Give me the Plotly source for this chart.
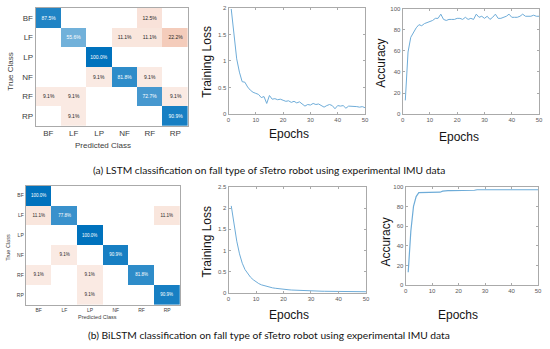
import plotly.graph_objects as go

W, H = 550, 349

classes = ["BF", "LF", "LP", "NF", "RF", "RP"]

cm_lstm = [
    [87.5, 0, 0, 0, 12.5, 0],
    [0, 55.6, 0, 11.1, 11.1, 22.2],
    [0, 0, 100.0, 0, 0, 0],
    [0, 0, 9.1, 81.8, 9.1, 0],
    [9.1, 9.1, 0, 0, 72.7, 9.1],
    [0, 9.1, 0, 0, 0, 90.9],
]
cm_bilstm = [
    [100.0, 0, 0, 0, 0, 0],
    [11.1, 77.8, 0, 0, 0, 11.1],
    [0, 0, 100.0, 0, 0, 0],
    [0, 9.1, 0, 90.9, 0, 0],
    [9.1, 0, 9.1, 0, 81.8, 0],
    [0, 0, 9.1, 0, 0, 90.9],
]

epochs = list(range(1, 51))
loss_lstm = [1.98, 1.47, 1.04, 0.79, 0.61, 0.60, 0.51, 0.45, 0.41, 0.39,
             0.37, 0.31, 0.33, 0.20, 0.35, 0.28, 0.29, 0.27, 0.28, 0.26,
             0.24, 0.25, 0.22, 0.24, 0.21, 0.23, 0.19, 0.15, 0.18, 0.17,
             0.20, 0.18, 0.19, 0.16, 0.13, 0.16, 0.18, 0.16, 0.10, 0.16,
             0.15, 0.16, 0.11, 0.15, 0.15, 0.14, 0.14, 0.13, 0.14, 0.12]
acc_lstm = [13, 59, 73, 78, 82, 85, 84, 86, 87, 88,
            89, 91, 91, 95, 90, 89, 90, 90, 90, 91,
            91, 90, 92, 90, 91, 90, 95, 92, 93, 91,
            93, 90, 92, 95, 91, 91, 92, 93, 95, 92,
            92, 92, 93, 95, 93, 93, 93, 94, 93, 93]
loss_bilstm = [2.05, 1.62, 1.22, 0.92, 0.70, 0.55, 0.45, 0.37, 0.31, 0.26,
               0.22, 0.19, 0.17, 0.15, 0.135, 0.12, 0.11, 0.10, 0.092, 0.085,
               0.079, 0.073, 0.068, 0.064, 0.060, 0.057, 0.054, 0.051, 0.049, 0.047,
               0.045, 0.043, 0.042, 0.040, 0.039, 0.038, 0.037, 0.036, 0.035, 0.034,
               0.033, 0.033, 0.032, 0.031, 0.031, 0.030, 0.030, 0.029, 0.029, 0.028]
acc_bilstm = [13, 55, 80, 90, 94, 94, 94, 94, 94, 94,
              94, 94, 94.5, 95.5, 96, 96, 96, 96, 96, 96,
              96, 96, 96, 96, 96, 96.5, 97, 97, 97, 97,
              97, 97, 97, 97, 97, 97, 97, 97, 97, 97,
              97, 97, 97, 97, 97, 97, 97, 97, 97, 97]

caption_a = "(a) LSTM classification on fall type of sTetro robot using experimental IMU data"
caption_b = "(b) BiLSTM classification on fall type of sTetro robot using experimental IMU data"

BLUE = "rgb(0,114,189)"
ORANGE = "rgb(217,83,25)"
LINE = "rgb(110,172,216)"
FRAME = "rgb(170,170,170)"
FONT = "Liberation Sans, Arial, sans-serif"


def dx(a, b):
    return [a / W, b / W]


def dy(top, bottom):
    return [1 - bottom / H, 1 - top / H]


fig = go.Figure()


def add_cm(cm, xa, ya, tsize):
    diag = [[cm[i][j] if i == j and cm[i][j] > 0 else None for j in range(6)] for i in range(6)]
    off = [[cm[i][j] if i != j and cm[i][j] > 0 else None for j in range(6)] for i in range(6)]
    dtext = [["%.1f%%" % v if v is not None else "" for v in r] for r in diag]
    otext = [["%.1f%%" % v if v is not None else "" for v in r] for r in off]
    fig.add_trace(go.Heatmap(z=diag, x=classes, y=classes, text=dtext, texttemplate="%{text}",
                             textfont=dict(size=tsize, color="white", family=FONT),
                             colorscale=[[0, "white"], [1, BLUE]], zmin=0, zmax=100,
                             showscale=False, hoverongaps=False, xaxis=xa, yaxis=ya))
    fig.add_trace(go.Heatmap(z=off, x=classes, y=classes, text=otext, texttemplate="%{text}",
                             textfont=dict(size=tsize, color="rgb(40,40,40)", family=FONT),
                             colorscale=[[0, "white"], [1, ORANGE]], zmin=0, zmax=75,
                             showscale=False, hoverongaps=False, xaxis=xa, yaxis=ya))


add_cm(cm_lstm, "x", "y", 5)
add_cm(cm_bilstm, "x4", "y4", 4.5)

fig.add_trace(go.Scatter(x=epochs, y=loss_lstm, mode="lines", line=dict(color=LINE, width=1),
                         xaxis="x2", yaxis="y2", showlegend=False))
fig.add_trace(go.Scatter(x=epochs, y=acc_lstm, mode="lines", line=dict(color=LINE, width=1),
                         xaxis="x3", yaxis="y3", showlegend=False))
fig.add_trace(go.Scatter(x=epochs, y=loss_bilstm, mode="lines", line=dict(color=LINE, width=1),
                         xaxis="x5", yaxis="y5", showlegend=False))
fig.add_trace(go.Scatter(x=epochs, y=acc_bilstm, mode="lines", line=dict(color=LINE, width=1.2),
                         xaxis="x6", yaxis="y6", showlegend=False))


def cm_axes(xdom, ydom, fsize):
    xa = dict(domain=xdom, type="category", categoryorder="array", categoryarray=classes,
              showline=True, mirror=True, linecolor=FRAME, linewidth=1, ticks="",
              showgrid=False, zeroline=False, tickfont=dict(size=fsize, color="rgb(60,60,60)", family=FONT),
              fixedrange=True)
    ya = dict(domain=ydom, type="category", categoryorder="array", categoryarray=classes,
              autorange="reversed", showline=True, mirror=True, linecolor=FRAME, linewidth=1,
              ticks="", showgrid=False, zeroline=False,
              tickfont=dict(size=fsize, color="rgb(60,60,60)", family=FONT), fixedrange=True)
    return xa, ya


def line_axes(xdom, ydom, yr, ytv):
    common = dict(showline=True, mirror="ticks", linecolor=FRAME, linewidth=1, ticks="inside",
                  ticklen=2, tickcolor=FRAME, showgrid=False, zeroline=False,
                  ticklabeloverflow="allow",
                  tickfont=dict(size=6, color="rgb(90,90,90)", family=FONT))
    xa = dict(domain=xdom, range=[0, 50], tickvals=[0, 10, 20, 30, 40, 50], **common)
    ya = dict(domain=ydom, range=yr, tickvals=ytv, **common)
    return xa, ya


x1, y1 = cm_axes(dx(34, 188), dy(5, 125), 8)
x4, y4 = cm_axes(dx(24, 180), dy(186, 307), 5)
x2, y2 = line_axes(dx(229, 367), dy(5, 113), [0, 2], [0, 0.5, 1, 1.5, 2])
x3, y3 = line_axes(dx(405, 543), dy(6, 113), [0, 100], [0, 20, 40, 60, 80, 100])
x5, y5 = line_axes(dx(229, 368), dy(187, 295), [0, 2.5], [0, 0.5, 1, 1.5, 2, 2.5])
x6, y6 = line_axes(dx(408, 542), dy(187, 287), [0, 100], [0, 20, 40, 60, 80, 100])

x2["anchor"] = "y2"; y2["anchor"] = "x2"
x3["anchor"] = "y3"; y3["anchor"] = "x3"
x1["anchor"] = "y"; y1["anchor"] = "x"
x4["anchor"] = "y4"; y4["anchor"] = "x4"
x5["anchor"] = "y5"; y5["anchor"] = "x5"
x6["anchor"] = "y6"; y6["anchor"] = "x6"


def ann(text, px, py, size, angle=0, color="rgb(20,20,20)", family=FONT):
    return dict(text=text, x=px / W, y=1 - py / H, xref="paper", yref="paper",
                showarrow=False, textangle=angle, xanchor="center", yanchor="middle",
                font=dict(size=size, color=color, family=family))


CAPFONT = "Lato, Noto Sans, sans-serif"
annotations = [
    ann("True Class", 9, 70, 8, -90, "rgb(60,60,60)"),
    ann("Predicted Class", 102, 145, 8, 0, "rgb(60,60,60)"),
    ann("Training Loss", 207, 60, 12, -90),
    ann("Epochs", 290, 133, 12),
    ann("Accuracy", 383, 61, 12, -90),
    ann("Epochs", 462, 136, 12),
    ann(caption_a, 270, 170, 10.25, 0, "rgb(20,20,20)", CAPFONT),
    ann("True Class", 6, 248, 5.5, -90, "rgb(60,60,60)"),
    ann("Predicted Class", 97, 320, 5.5, 0, "rgb(60,60,60)"),
    ann("Training Loss", 207, 243, 12, -90),
    ann("Epochs", 290, 317, 12),
    ann("Accuracy", 388, 243, 12, -90),
    ann("Epochs", 461, 317, 12),
    ann(caption_b, 270, 338, 10.25, 0, "rgb(20,20,20)", CAPFONT),
]

fig.update_layout(
    width=W, height=H, margin=dict(l=0, r=0, t=0, b=0),
    paper_bgcolor="white", plot_bgcolor="white", showlegend=False,
    xaxis=x1, yaxis=y1, xaxis2=x2, yaxis2=y2, xaxis3=x3, yaxis3=y3,
    xaxis4=x4, yaxis4=y4, xaxis5=x5, yaxis5=y5, xaxis6=x6, yaxis6=y6,
    annotations=annotations,
)

fig.write_html("out.html", config={"displayModeBar": False},
               post_script="document.body.style.margin='0';document.body.style.overflow='hidden';")
